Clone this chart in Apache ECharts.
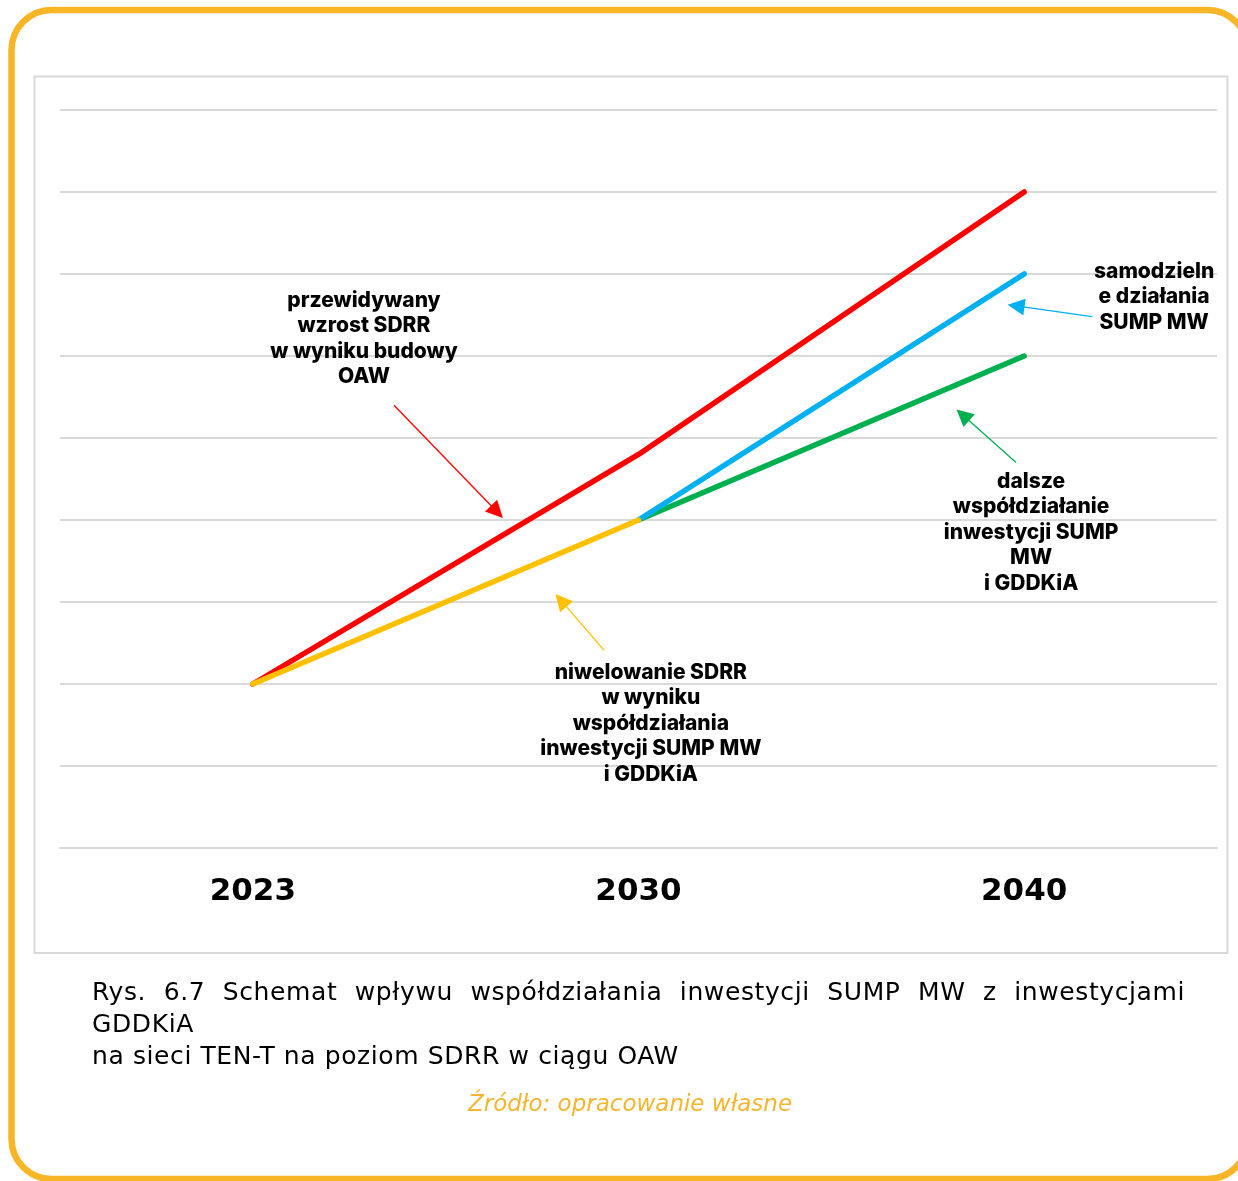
<!DOCTYPE html>
<html><head><meta charset="utf-8">
<script src="https://cdn.jsdelivr.net/npm/echarts@6/dist/echarts.min.js"></script>
<style>
html,body{margin:0;padding:0;background:#fff;width:1238px;height:1181px;overflow:hidden}
#chart{position:absolute;left:0;top:0;width:1238px;height:1181px}
#caption{position:absolute;left:92px;top:976px;width:1093px;font-family:'DejaVu Sans';font-size:25px;letter-spacing:0.6px;line-height:32px;text-align:justify;color:#000}
#source{position:absolute;left:0;width:1260px;top:1090px;text-align:center;font-family:'DejaVu Sans';font-style:italic;font-size:23px;color:#F5B52E}
</style></head>
<body>
<div id="chart"></div>
<div id="caption">Rys. 6.7 Schemat wpływu współdziałania inwestycji SUMP MW z inwestycjami GDDKiA<br>na sieci TEN-T na poziom SDRR w ciągu OAW</div>
<div id="source">Źródło: opracowanie własne</div>
<script>
// ---- data ----
const years = ['2023', '2030', '2040'];
const sdrrBudowaOAW = [2, 4.8, 8];          // red
const samodzielneSUMP = [null, 4, 7];       // blue
const dalszeWspoldzialanie = [null, 4, 6];  // green
const niwelowanieSDRR = [2, 4, null];       // yellow

// annotation texts and their anchors (x in category-index units, y in value units)
const noteTexts = [
  'przewidywany\nwzrost SDRR\nw wyniku budowy\nOAW',
  'samodzieln\ne działania\nSUMP MW',
  'dalsze\nwspółdziałanie\ninwestycji SUMP\nMW\ni GDDKiA',
  'niwelowanie SDRR\nw wyniku\nwspółdziałania\ninwestycji SUMP MW\ni GDDKiA'
];
const noteX = [0.288, 2.337, 2.018, 1.032];
const noteY = [6.21, 6.72, 3.85, 1.52];
// arrows: start -> end
const arrowFrom = [[0.366, 5.40], [2.176, 6.48], [1.979, 4.70], [0.911, 2.41]];
const arrowTo   = [[0.633, 4.10], [1.979, 6.61], [1.841, 5.28], [0.799, 3.02]];

const RED = '#FF0000', BLUE = '#00B0F0', GREEN = '#00B050', YELLOW = '#FFC000';
const arrowColors = [RED, BLUE, GREEN, YELLOW];

const chart = echarts.init(document.getElementById('chart'), null, {renderer: 'canvas'});

const lineSeries = (name, data, color) => ({
  name, type: 'line', data, xAxisIndex: 0, yAxisIndex: 0,
  symbol: 'none', connectNulls: false,
  lineStyle: {color, width: 5.5, cap: 'round', join: 'round'},
  silent: true, animation: false
});

chart.setOption({
  animation: false,
  backgroundColor: '#fff',
  graphic: [
    {type: 'rect', z: -10, shape: {x: 11.5, y: 10, width: 1236, height: 1169, r: 40},
     style: {fill: 'none', stroke: '#F8B526', lineWidth: 6.5}},
    {type: 'rect', z: -10, shape: {x: 34.5, y: 76.5, width: 1193, height: 876.5},
     style: {fill: 'none', stroke: '#D9D9D9', lineWidth: 2}}
  ],
  grid: {left: 60, right: 21, top: 110, bottom: 333, containLabel: false},
  xAxis: [
    {type: 'category', data: years, boundaryGap: true,
     axisLine: {show: true, lineStyle: {color: '#D9D9D9', width: 2}},
     axisTick: {show: false},
     axisLabel: {color: '#000', fontSize: 31, fontWeight: 'bold', fontFamily: 'DejaVu Sans', margin: 28}},
    {type: 'value', min: -0.5, max: 2.5, show: false}
  ],
  yAxis: [{
    type: 'value', min: 0, max: 9, interval: 1,
    axisLine: {show: false}, axisTick: {show: false}, axisLabel: {show: false},
    splitLine: {show: true, lineStyle: {color: '#D9D9D9', width: 2}}
  }],
  series: [
    lineSeries('przewidywany wzrost SDRR', sdrrBudowaOAW, RED),
    lineSeries('dalsze współdziałanie', dalszeWspoldzialanie, GREEN),
    lineSeries('samodzielne działania SUMP MW', samodzielneSUMP, BLUE),
    lineSeries('niwelowanie SDRR', niwelowanieSDRR, YELLOW),
    {
      type: 'lines', coordinateSystem: 'cartesian2d', xAxisIndex: 1, yAxisIndex: 0,
      symbol: ['none', 'triangle'], symbolSize: [14, 17],
      silent: true, animation: false,
      data: arrowFrom.map((f, i) => ({
        coords: [f, arrowTo[i]],
        lineStyle: {color: arrowColors[i], width: 1.3, opacity: 1}
      })),
      lineStyle: {width: 1.3, opacity: 1}
    },
    {
      type: 'scatter', xAxisIndex: 1, yAxisIndex: 0, symbolSize: 0, silent: true,
      itemStyle: {opacity: 1},
      data: noteTexts.map((t, i) => ({value: [noteX[i], noteY[i]], text: t})),
      label: {
        show: true, position: 'inside', align: 'center', verticalAlign: 'middle',
        formatter: p => p.data.text,
        fontFamily: 'Inter', fontWeight: 800, fontSize: 21, lineHeight: 25.5, color: '#000'
      }
    }
  ]
});
</script>
</body></html>
